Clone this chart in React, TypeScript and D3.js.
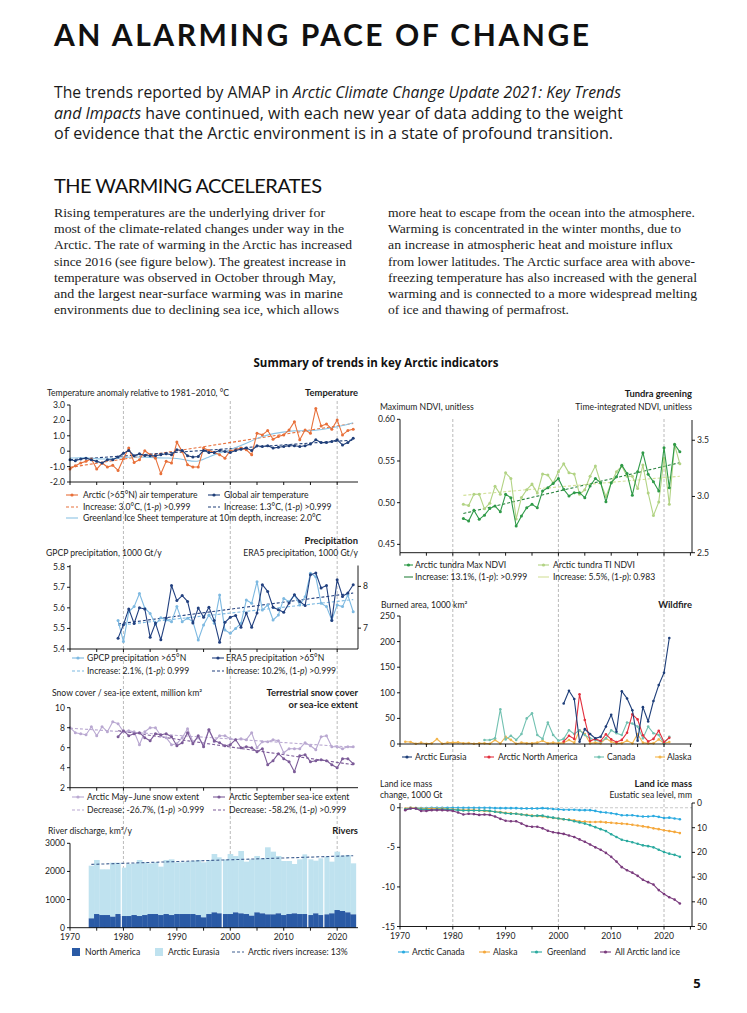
import React from 'react';
import * as d3 from 'd3';

// ---------- data ----------
const tempYears = d3.range(1970, 2024);
const arcticAirTemp = [-1.16, -0.94, -0.77, -0.66, -0.51, -1.16, -0.77, -1.03, -0.92, -1.25, -0.49, 0.2, -0.73, -0.56, 0.03, -0.23, -0.45, -1.46, -0.66, -0.77, 0.59, -0.02, -0.88, -1.03, -1.03, 0.2, 0.05, -0.08, -0.23, -0.45, 0.03, 0.09, 0.2, 0.09, -0.23, 1.17, 1.06, 1.34, 0.78, 0.95, 1.06, 1.38, 1.92, 0.74, 1.38, 1.17, 2.78, 1.64, 1.77, 1.43, 2.03, 1.06, 1.34, 1.43];
const globalAirTemp = [-0.56, -0.62, -0.51, -0.45, -0.56, -0.66, -0.77, -0.56, -0.56, -0.38, -0.13, 0.05, -0.3, -0.17, -0.28, -0.3, -0.3, -0.23, -0.17, -0.23, 0.09, 0.05, -0.3, -0.38, -0.34, 0.05, -0.08, -0.08, 0.05, -0.02, -0.08, 0.05, 0.13, 0.2, 0.05, 0.35, 0.31, 0.35, 0.2, 0.26, 0.31, 0.35, 0.35, 0.31, 0.35, 0.46, 0.74, 0.56, 0.56, 0.63, 0.74, 0.41, 0.56, 0.84];
const greenlandYears = [1970, 1973, 1976, 1979, 1982, 1985, 1988, 1990, 1992, 1994, 1996, 1998, 2000, 2003, 2006, 2009, 2012, 2015, 2018, 2021, 2023];
const greenlandTemp = [-0.45, -0.4, -0.55, -0.45, -0.35, -0.4, -0.45, -0.45, -0.6, -0.72, -0.35, -0.1, 0.1, 0.5, 1.0, 1.2, 1.35, 1.3, 1.45, 1.65, 1.85];
const arcticTempTrend = [[1970, -1.05], [2023, 1.8]];
const globalTempTrend = [[1970, -0.55], [2023, 0.72]];

const precipYears = d3.range(1979, 2024);
const gpcpPrecip = [5.538, 5.436, 5.581, 5.606, 5.67, 5.598, 5.573, 5.52, 5.552, 5.541, 5.533, 5.606, 5.533, 5.549, 5.533, 5.444, 5.517, 5.565, 5.525, 5.662, 5.492, 5.476, 5.5, 5.525, 5.638, 5.622, 5.727, 5.589, 5.614, 5.541, 5.565, 5.646, 5.63, 5.662, 5.614, 5.654, 5.768, 5.751, 5.622, 5.606, 5.541, 5.614, 5.606, 5.662, 5.581];
const era5Precip = [6.76, 7.08, 7.46, 7.11, 7.49, 7.46, 6.78, 7.12, 6.72, 7.24, 8.02, 7.66, 7.78, 7.64, 7.12, 7.48, 7.26, 7.5, 7.18, 6.66, 7.14, 7.26, 7.3, 7.02, 7.36, 7.02, 7.36, 8.04, 7.88, 7.5, 7.44, 7.38, 7.6, 7.8, 7.64, 7.54, 8.28, 8.32, 7.96, 8.02, 7.18, 8.16, 7.76, 7.84, 8.04];
const gpcpTrend = [[1979, 5.515], [2023, 5.64]];
const era5Trend = [[1979, 7.1], [2023, 7.84]];

const snowYears = d3.range(1970, 2024);
const snowExtent = [8.0, 7.5, 7.4, 7.3, 8.1, 7.2, 8.1, 7.6, 8.6, 8.4, 7.6, 7.7, 7.6, 6.3, 7.6, 8.0, 8.0, 7.2, 7.0, 6.3, 6.4, 7.0, 7.9, 6.6, 7.0, 6.3, 7.8, 6.6, 7.2, 7.2, 6.9, 6.8, 6.9, 6.8, 7.5, 6.0, 6.6, 6.6, 6.8, 6.7, 5.5, 5.9, 5.9, 5.9, 6.5, 6.2, 5.8, 7.1, 7.2, 6.1, 6.1, 5.9, 6.1, 6.1];
const seaIceYears = d3.range(1979, 2024);
const seaIceExtent = [7.1, 7.7, 7.2, 7.4, 7.5, 7.0, 6.7, 7.4, 7.3, 7.4, 7.1, 6.2, 6.5, 7.5, 6.4, 7.2, 6.1, 7.8, 6.7, 6.5, 6.2, 6.3, 6.8, 6.0, 6.1, 6.0, 5.6, 5.9, 4.3, 4.7, 5.4, 4.9, 4.6, 3.6, 5.2, 5.3, 4.6, 4.7, 4.8, 4.7, 4.3, 4.0, 4.9, 4.9, 4.4];
const snowTrend = [[1970, 7.95], [2023, 6.05]];
const seaIceTrend = [[1979, 7.7], [2023, 4.3]];

const riverYears = d3.range(1974, 2024);
const northAmericaDischarge = [332, 486, 450, 450, 391, 486, 415, 415, 450, 415, 450, 486, 486, 450, 486, 450, 486, 486, 486, 486, 450, 368, 486, 545, 510, 486, 486, 545, 510, 486, 427, 545, 510, 474, 474, 510, 450, 486, 510, 486, 486, 450, 510, 450, 474, 510, 628, 593, 545, 474];
const eurasiaDischarge = [1873, 1921, 1625, 1625, 1921, 1826, 1719, 1850, 1838, 1992, 1874, 1802, 1838, 1720, 1921, 1980, 1838, 1838, 1862, 1897, 1957, 1956, 1921, 2075, 1992, 1944, 2134, 2004, 2217, 1862, 2003, 2004, 1956, 2384, 2229, 2039, 1921, 1885, 1755, 1944, 2122, 1980, 1873, 2016, 2052, 1838, 2075, 1968, 2040, 1814];
const riverTrend = [[1974, 2250], [2023, 2560]];
const riverGaps = [1979.6, 1998.5, 2014.5, 2017.5];

const ndviYears = d3.range(1982, 2024);
const maxNdvi = [0.481, 0.478, 0.491, 0.48, 0.485, 0.493, 0.496, 0.489, 0.51, 0.506, 0.472, 0.484, 0.494, 0.498, 0.494, 0.514, 0.518, 0.523, 0.529, 0.516, 0.508, 0.512, 0.512, 0.506, 0.52, 0.529, 0.524, 0.501, 0.524, 0.531, 0.545, 0.535, 0.509, 0.537, 0.56, 0.534, 0.525, 0.514, 0.566, 0.518, 0.57, 0.561];
const tiNdvi = [2.93, 2.92, 3.02, 3.02, 2.89, 2.94, 3.09, 3.02, 3.21, 3.16, 2.8, 2.99, 3.06, 3.11, 3.03, 3.2, 3.19, 3.12, 3.22, 3.29, 3.21, 3.2, 3.02, 3.06, 3.18, 3.27, 3.12, 3.0, 3.12, 3.22, 3.27, 3.18, 3.18, 3.07, 3.28, 3.03, 2.83, 2.95, 3.34, 2.93, 3.46, 3.29];
const maxNdviTrend = [[1982, 0.487], [2023, 0.548]];
const tiNdviTrend = [[1982, 3.01], [2023, 3.18]];

const eurasiaFireYears = d3.range(2001, 2022);
const eurasiaFire = [79, 104, 88, 4.5, 29, 19.5, 11, 14, 34, 57, 24, 103, 89, 66, 6.5, 72, 44, 84, 115, 139, 207];
const naFireYears = d3.range(2001, 2022);
const naFire = [5, 16, 10, 97, 47, 6, 10, 6, 19, 9, 4, 8, 22, 58, 48, 17, 5, 10, 26, 4, 12];
const canadaFireYears = d3.range(1986, 2022);
const canadaFire = [7.8, 7.8, 11, 67.7, 9, 16, 8, 19.5, 50, 60, 17.6, 10, 42, 17.6, 6.5, 10, 27, 19.5, 27, 17.6, 11, 8, 4.6, 11, 27, 21, 17.6, 42, 40, 34, 11, 34, 21, 17.6, 1.3, 14];
const alaskaFireYears = d3.range(1971, 2022);
const alaskaFire = [4.5, 4, 0.5, 2.6, 0.5, 1.3, 9.8, 0.6, 2.6, 2.6, 3.2, 1.3, 2, 0.6, 1.3, 1.3, 0.6, 7.8, 1, 14, 8, 0.5, 2.6, 1.3, 1.3, 2.6, 6.5, 1.3, 2.6, 1.3, 2.6, 7.8, 2.6, 27, 19.5, 1.3, 2.6, 1.3, 11, 4.5, 1.3, 1.3, 6.5, 1.3, 19.5, 2.6, 1.3, 1.3, 9, 1.3, 4];

const iceYears = d3.range(1971, 2024);
const arcticCanadaIce = [-0.15, 0, -0.05, -0.05, -0.05, 0, 0, 0, 0, 0, 0, 0, 0, 0, 0, 0, 0, -0.05, -0.05, -0.05, -0.05, -0.05, -0.1, -0.1, -0.1, -0.1, -0.05, -0.1, -0.15, -0.2, -0.25, -0.25, -0.25, -0.3, -0.3, -0.3, -0.4, -0.55, -0.6, -0.7, -0.8, -0.95, -0.95, -0.95, -1.05, -1.1, -1.1, -1.05, -1.15, -1.3, -1.25, -1.35, -1.45];
const alaskaIce = [-0.1, 0, -0.05, -0.1, -0.1, -0.1, -0.1, -0.1, -0.15, -0.2, -0.25, -0.3, -0.3, -0.3, -0.35, -0.4, -0.45, -0.5, -0.55, -0.65, -0.7, -0.75, -0.85, -0.9, -1.0, -1.05, -1.1, -1.2, -1.3, -1.35, -1.45, -1.5, -1.6, -1.7, -1.75, -1.8, -1.8, -1.78, -1.85, -1.9, -1.95, -2.0, -2.05, -2.15, -2.25, -2.35, -2.45, -2.6, -2.7, -2.85, -2.95, -3.05, -3.2];
const greenlandIce = [-0.2, -0.1, -0.1, -0.2, -0.2, -0.25, -0.2, -0.2, -0.2, -0.25, -0.3, -0.35, -0.35, -0.35, -0.35, -0.35, -0.4, -0.5, -0.6, -0.7, -0.75, -0.75, -0.85, -0.95, -1.05, -1.0, -1.0, -1.15, -1.25, -1.35, -1.45, -1.55, -1.7, -1.85, -2.0, -2.2, -2.45, -2.7, -2.95, -3.35, -3.7, -4.05, -4.2, -4.35, -4.55, -4.75, -4.85, -5.0, -5.3, -5.6, -5.8, -5.95, -6.2];
const allArcticIce = [-0.3, -0.1, -0.1, -0.4, -0.4, -0.3, -0.3, -0.3, -0.35, -0.4, -0.6, -0.85, -0.75, -0.8, -0.9, -0.85, -0.9, -1.1, -1.4, -1.65, -1.7, -1.7, -2.0, -2.3, -2.4, -2.4, -2.6, -2.9, -3.1, -3.2, -3.3, -3.5, -3.7, -4.0, -4.3, -4.65, -5.0, -5.3, -5.7, -6.2, -6.8, -7.5, -7.9, -8.2, -8.6, -9.1, -9.4, -9.7, -10.4, -10.9, -11.3, -11.6, -12.1];

const refYears = [1980, 2000, 2020];

// ---------- helpers ----------
const FONT = 'Lato, "Noto Sans", Arial, sans-serif';
const INK = '#1c1c1c';
const zip = (ys: number[], vs: number[]) => ys.map((yr, i) => [yr, vs[i]]);

const xL = d3.scaleLinear().domain([1970, 2023.9]).range([70, 358]);
const xR = d3.scaleLinear().domain([1970, 2025.3]).range([400, 692]);

const Series = ({ data, x, y, color, width = 1.1, dash, dots = false, r = 1.5, curve }: any) => {
  const gen = d3.line<number[]>().x(d => x(d[0])).y(d => y(d[1])).curve(curve || d3.curveLinear);
  return (
    <g>
      <path d={gen(data) || ''} fill="none" stroke={color} strokeWidth={width} strokeDasharray={dash} strokeLinejoin="round" />
      {dots && data.map((d: number[], i: number) => <circle key={i} cx={x(d[0])} cy={y(d[1])} r={r} fill={color} />)}
    </g>
  );
};

const YAxis = ({ y, x, ticks, side = 'left', fmt = (v: number) => String(v), top, bottom }: any) => {
  const r = y.range();
  const lo = top ?? Math.min(r[0], r[1]);
  const hi = bottom ?? Math.max(r[0], r[1]);
  const dir = side === 'left' ? -1 : 1;
  return (
    <g fontFamily={FONT} fontSize={8.6} fill={INK}>
      <line x1={x} x2={x} y1={lo} y2={hi} stroke="#000" strokeWidth={0.9} />
      {ticks.map((v: number) => (
        <g key={v}>
          <line x1={x} x2={x + dir * 3} y1={y(v)} y2={y(v)} stroke="#000" strokeWidth={0.9} />
          <text x={x + dir * 5} y={y(v) + 3} textAnchor={side === 'left' ? 'end' : 'start'}>{fmt(v)}</text>
        </g>
      ))}
    </g>
  );
};

const XAxis = ({ x, y, labels = false }: any) => {
  const d1 = x.domain()[1];
  const ticks = d3.range(1970, d1 + 0.01, 5);
  const [r0, r1] = x.range();
  return (
    <g>
      <line x1={r0} x2={r1} y1={y} y2={y} stroke="#000" strokeWidth={0.9} />
      {ticks.map((t: number) => <line key={t} x1={x(t)} x2={x(t)} y1={y} y2={y + 3} stroke="#000" strokeWidth={0.9} />)}
      {labels && ticks.filter((t: number) => t % 10 === 0).map((t: number) => (
        <text key={t} x={x(t)} y={y + 12} textAnchor="middle" fontFamily={FONT} fontSize={8.6} fill={INK}>{t}</text>
      ))}
    </g>
  );
};

const Key = ({ x, y, color, kind, w = 12 }: any) => {
  if (kind === 'square') return <rect x={x} y={y - 4} width={8} height={8} fill={color} />;
  return (
    <g>
      <line x1={x} x2={x + w} y1={y} y2={y} stroke={color} strokeWidth={1.1} strokeDasharray={kind === 'dash' ? '3,2' : undefined} />
      {kind === 'dot' && <circle cx={x + w / 2} cy={y} r={1.6} fill={color} />}
    </g>
  );
};

const T = ({ x, y, children, anchor = 'start', bold = false, size = 8.6 }: any) => (
  <text x={x} y={y} textAnchor={anchor} fontFamily={FONT} fontSize={size} fontWeight={bold ? 700 : 400} fill={INK}>{children}</text>
);
const P = () => <tspan fontStyle="italic">p</tspan>;

const RefLines = ({ x, y0, y1 }: any) => (
  <g>
    {refYears.map(yr => (
      <line key={yr} x1={x(yr)} x2={x(yr)} y1={y0} y2={y1} stroke="#a8a8a8" strokeWidth={0.8} strokeDasharray="3,2" />
    ))}
  </g>
);

// ---------- panels ----------
const C = {
  arctic: '#E8703A', navy: '#1F3E78', greenland: '#8DC4E4',
  gpcp: '#7DB9E1', era5: '#22407F',
  snow: '#B9A8D1', seaIce: '#7C5B98',
  na: '#2A5AA5', eu: '#BFE2EF', riverTrend: '#3E5E90',
  maxNdvi: '#2F9A48', ti: '#B2D384', maxTrend: '#2A8440', tiTrend: '#D3E19A',
  fEu: '#1E3E79', fNa: '#E2303E', fCa: '#72C1B1', fAk: '#F4B64C',
  iCa: '#2AAAE0', iAk: '#F5A83C', iGr: '#2BAA9F', iAll: '#7A3B7D',
};

const TemperaturePanel = () => {
  const y = d3.scaleLinear().domain([-2, 3]).range([482, 405]);
  return (
    <g>
      <T x={47} y={396}>Temperature anomaly relative to 1981–2010, °C</T>
      <T x={358} y={396} anchor="end" bold size={9.4}>Temperature</T>
      <Series data={arcticTempTrend} x={xL} y={y} color={C.arctic} dash="3,2" />
      <Series data={globalTempTrend} x={xL} y={y} color={C.navy} dash="3,2" />
      <Series data={zip(greenlandYears, greenlandTemp)} x={xL} y={y} color={C.greenland} curve={d3.curveBasis} />
      <Series data={zip(tempYears, arcticAirTemp)} x={xL} y={y} color={C.arctic} dots />
      <Series data={zip(tempYears, globalAirTemp)} x={xL} y={y} color={C.navy} dots />
      <YAxis y={y} x={70} ticks={[-2, -1, 0, 1, 2, 3]} fmt={(v: number) => (v === 0 ? '0' : v.toFixed(1))} />
      <XAxis x={xL} y={482} />
      <Key x={66} y={495} color={C.arctic} kind="dot" />
      <T x={83} y={498}>Arctic (&gt;65°N) air temperature</T>
      <Key x={208} y={495} color={C.navy} kind="dot" />
      <T x={224} y={498}>Global air temperature</T>
      <Key x={66} y={507} color={C.arctic} kind="dash" />
      <T x={83} y={510}>Increase: 3.0°C, (1-<P />) &gt;0.999</T>
      <Key x={208} y={507} color={C.navy} kind="dash" />
      <T x={224} y={510}>Increase: 1.3°C, (1-<P />) &gt;0.999</T>
      <Key x={66} y={518} color={C.greenland} kind="line" />
      <T x={83} y={521}>Greenland Ice Sheet temperature at 10m depth, increase: 2.0°C</T>
    </g>
  );
};

const PrecipPanel = () => {
  const y = d3.scaleLinear().domain([5.4, 5.8]).range([649, 566.7]);
  const y2 = d3.scaleLinear().domain([6.5, 8.5]).range([649, 565.5]);
  return (
    <g>
      <T x={358} y={544} anchor="end" bold size={9.4}>Precipitation</T>
      <T x={46} y={556}>GPCP precipitation, 1000 Gt/y</T>
      <T x={358} y={556} anchor="end">ERA5 precipitation, 1000 Gt/y</T>
      <Series data={gpcpTrend} x={xL} y={y} color={C.gpcp} dash="3,2" />
      <Series data={era5Trend} x={xL} y={y2} color={C.era5} dash="3,2" />
      <Series data={zip(precipYears, gpcpPrecip)} x={xL} y={y} color={C.gpcp} dots />
      <Series data={zip(precipYears, era5Precip)} x={xL} y={y2} color={C.era5} dots />
      <YAxis y={y} x={70} ticks={[5.4, 5.5, 5.6, 5.7, 5.8]} fmt={(v: number) => v.toFixed(1)} top={565} />
      <YAxis y={y2} x={358} side="right" ticks={[7, 8]} />
      <XAxis x={xL} y={649} />
      <Key x={72} y={658} color={C.gpcp} kind="dot" />
      <T x={87} y={661}>GPCP precipitation &gt;65°N</T>
      <Key x={212} y={658} color={C.era5} kind="dot" />
      <T x={226} y={661}>ERA5 precipitation &gt;65°N</T>
      <Key x={72} y={671} color={C.gpcp} kind="dash" />
      <T x={87} y={674}>Increase: 2.1%, (1-<P />): 0.999</T>
      <Key x={212} y={671} color={C.era5} kind="dash" />
      <T x={226} y={674}>Increase: 10.2%, (1-<P />) &gt;0.999</T>
    </g>
  );
};

const SnowPanel = () => {
  const y = d3.scaleLinear().domain([2, 10]).range([787.7, 707.7]);
  return (
    <g>
      <T x={52} y={696}>Snow cover / sea-ice extent, million km²</T>
      <T x={358} y={696} anchor="end" bold size={9.4}>Terrestrial snow cover</T>
      <T x={358} y={708} anchor="end" bold size={9.4}>or sea-ice extent</T>
      <Series data={snowTrend} x={xL} y={y} color={C.snow} dash="3,2" />
      <Series data={seaIceTrend} x={xL} y={y} color={C.seaIce} dash="3,2" />
      <Series data={zip(snowYears, snowExtent)} x={xL} y={y} color={C.snow} dots />
      <Series data={zip(seaIceYears, seaIceExtent)} x={xL} y={y} color={C.seaIce} dots />
      <YAxis y={y} x={70} ticks={[2, 4, 6, 8, 10]} />
      <XAxis x={xL} y={787.7} />
      <Key x={72} y={797} color={C.snow} kind="dot" />
      <T x={87} y={800}>Arctic May–June snow extent</T>
      <Key x={213} y={797} color={C.seaIce} kind="dot" />
      <T x={229} y={800}>Arctic September sea-ice extent</T>
      <Key x={72} y={810} color={C.snow} kind="dash" />
      <T x={87} y={813}>Decrease: -26.7%, (1-<P />) &gt;0.999</T>
      <Key x={213} y={810} color={C.seaIce} kind="dash" />
      <T x={229} y={813}>Decrease: -58.2%, (1-<P />) &gt;0.999</T>
    </g>
  );
};

const RiversPanel = () => {
  const y = d3.scaleLinear().domain([0, 3000]).range([927.7, 843.3]);
  return (
    <g>
      <T x={48} y={834}>River discharge, km³/y</T>
      <T x={358} y={834} anchor="end" bold size={9.4}>Rivers</T>
      {riverYears.map((yr, i) => {
        const x0 = xL(yr - 0.5);
        const w = xL(yr + 0.5) - x0 + 0.3;
        const na = northAmericaDischarge[i];
        const tot = na + eurasiaDischarge[i];
        return (
          <g key={yr}>
            <rect x={x0} width={w} y={y(tot)} height={y(na) - y(tot)} fill={C.eu} />
            <rect x={x0} width={w} y={y(na)} height={y(0) - y(na)} fill={C.na} />
          </g>
        );
      })}
      {riverGaps.map(g => <line key={g} x1={xL(g)} x2={xL(g)} y1={y(3000)} y2={y(0)} stroke="#fff" strokeWidth={1.2} />)}
      <Series data={riverTrend} x={xL} y={y} color={C.riverTrend} dash="3,2" />
      <YAxis y={y} x={70} ticks={[0, 1000, 2000, 3000]} />
      <XAxis x={xL} y={927.7} labels />
      <Key x={72} y={952} color={C.na} kind="square" />
      <T x={85} y={955}>North America</T>
      <Key x={155} y={952} color={C.eu} kind="square" />
      <T x={168} y={955}>Arctic Eurasia</T>
      <Key x={232} y={952} color={C.riverTrend} kind="dash" />
      <T x={248} y={955}>Arctic rivers increase: 13%</T>
    </g>
  );
};

const TundraPanel = () => {
  const y = d3.scaleLinear().domain([0.44, 0.6]).range([552.7, 419.3]);
  const y2 = d3.scaleLinear().domain([2.5, 3.68]).range([552.7, 420]);
  return (
    <g>
      <T x={692} y={397} anchor="end" bold size={9.4}>Tundra greening</T>
      <T x={380} y={410}>Maximum NDVI, unitless</T>
      <T x={692} y={410} anchor="end">Time-integrated NDVI, unitless</T>
      <Series data={maxNdviTrend} x={xR} y={y} color={C.maxTrend} dash="3,2" />
      <Series data={tiNdviTrend} x={xR} y={y2} color={C.tiTrend} dash="3,2" />
      <Series data={zip(ndviYears, tiNdvi)} x={xR} y={y2} color={C.ti} dots />
      <Series data={zip(ndviYears, maxNdvi)} x={xR} y={y} color={C.maxNdvi} dots />
      <YAxis y={y} x={400} ticks={[0.45, 0.5, 0.55, 0.6]} fmt={(v: number) => v.toFixed(2)} />
      <YAxis y={y2} x={692} side="right" ticks={[2.5, 3, 3.5]} fmt={(v: number) => v.toFixed(1)} />
      <XAxis x={xR} y={552.7} />
      <Key x={404} y={565} color={C.maxNdvi} kind="dot" w={9} />
      <T x={415} y={568}>Arctic tundra Max NDVI</T>
      <Key x={538} y={565} color={C.ti} kind="dot" w={11} />
      <T x={553} y={568}>Arctic tundra TI NDVI</T>
      <Key x={404} y={577} color={C.maxTrend} kind="line" w={9} />
      <T x={415} y={580}>Increase: 13.1%, (1-<P />): &gt;0.999</T>
      <Key x={538} y={577} color={C.tiTrend} kind="line" w={11} />
      <T x={553} y={580}>Increase: 5.5%, (1-<P />): 0.983</T>
    </g>
  );
};

const WildfirePanel = () => {
  const y = d3.scaleLinear().domain([0, 250]).range([744, 616]);
  return (
    <g>
      <T x={381} y={608}>Burned area, 1000 km²</T>
      <T x={692} y={608} anchor="end" bold size={9.4}>Wildfire</T>
      <Series data={zip(alaskaFireYears, alaskaFire)} x={xR} y={y} color={C.fAk} dots r={1.3} />
      <Series data={zip(canadaFireYears, canadaFire)} x={xR} y={y} color={C.fCa} dots r={1.3} />
      <Series data={zip(naFireYears, naFire)} x={xR} y={y} color={C.fNa} dots r={1.3} />
      <Series data={zip(eurasiaFireYears, eurasiaFire)} x={xR} y={y} color={C.fEu} dots r={1.3} />
      <YAxis y={y} x={400} ticks={[0, 50, 100, 150, 200, 250]} />
      <XAxis x={xR} y={744} />
      <Key x={402} y={757} color={C.fEu} kind="dot" w={10} />
      <T x={415} y={760}>Arctic Eurasia</T>
      <Key x={484} y={757} color={C.fNa} kind="dot" w={10} />
      <T x={498} y={760}>Arctic North America</T>
      <Key x={594} y={757} color={C.fCa} kind="dot" w={10} />
      <T x={607} y={760}>Canada</T>
      <Key x={655} y={757} color={C.fAk} kind="dot" w={10} />
      <T x={667} y={760}>Alaska</T>
    </g>
  );
};

const LandIcePanel = () => {
  const y = d3.scaleLinear().domain([-15, 0.6]).range([926.5, 803]);
  const y2 = d3.scaleLinear().domain([0, 50]).range([803, 926.5]);
  return (
    <g>
      <T x={380} y={787}>Land ice mass</T>
      <T x={380} y={798}>change, 1000 Gt</T>
      <T x={692} y={787} anchor="end" bold size={9.4}>Land ice mass</T>
      <T x={692} y={798} anchor="end">Eustatic sea level, mm</T>
      <line x1={400} x2={692} y1={y(0)} y2={y(0)} stroke="#bbb" strokeWidth={0.8} strokeDasharray="3,2" />
      <Series data={zip(iceYears, arcticCanadaIce)} x={xR} y={y} color={C.iCa} dots r={1.3} />
      <Series data={zip(iceYears, alaskaIce)} x={xR} y={y} color={C.iAk} dots r={1.3} />
      <Series data={zip(iceYears, greenlandIce)} x={xR} y={y} color={C.iGr} dots r={1.3} />
      <Series data={zip(iceYears, allArcticIce)} x={xR} y={y} color={C.iAll} dots r={1.3} />
      <YAxis y={y} x={400} ticks={[0, -5, -10, -15]} />
      <YAxis y={y2} x={692} side="right" ticks={[0, 10, 20, 30, 40, 50]} />
      <XAxis x={xR} y={926.5} labels />
      <Key x={398} y={952} color={C.iCa} kind="dot" w={11} />
      <T x={412} y={955}>Arctic Canada</T>
      <Key x={479} y={952} color={C.iAk} kind="dot" w={11} />
      <T x={493} y={955}>Alaska</T>
      <Key x={531} y={952} color={C.iGr} kind="dot" w={11} />
      <T x={547} y={955}>Greenland</T>
      <Key x={600} y={952} color={C.iAll} kind="dot" w={11} />
      <T x={615} y={955}>All Arctic land ice</T>
    </g>
  );
};

// ---------- page text ----------
const leftBody = [
  ['Rising temperatures are the underlying driver for', 271],
  ['most of the climate-related changes under way in the', 290],
  ['Arctic. The rate of warming in the Arctic has increased', 298],
  ['since 2016 (see figure below). The greatest increase in', 292],
  ['temperature was observed in October through May,', 282],
  ['and the largest near-surface warming was in marine', 289],
  ['environments due to declining sea ice, which allows', 285],
];
const rightBody = [
  ['more heat to escape from the ocean into the atmosphere.', 307],
  ['Warming is concentrated in the winter months, due to', 293],
  ['an increase in atmospheric heat and moisture influx', 285],
  ['from lower latitudes. The Arctic surface area with above-', 307],
  ['freezing temperature has also increased with the general', 309],
  ['warming and is connected to a more widespread melting', 309],
  ['of ice and thawing of permafrost.', 181],
];

const SERIF = '"Liberation Serif", "DejaVu Serif", serif';
const SANS = '"Open Sans", "Noto Sans", sans-serif';

const App: React.FC = () => (
  <svg width={747} height={1013} style={{ position: 'absolute', left: 0, top: 0, background: '#fff' }}>
    <rect width={747} height={1013} fill="#fff" />
    <text x={54} y={46} fontFamily={FONT} fontWeight={700} fontSize={30} fill="#111" textLength={535} lengthAdjust="spacing">AN ALARMING PACE OF CHANGE</text>
    <g fontFamily={SANS} fontSize={15.5} fill="#1a1a1a">
      <text x={54} y={98} textLength={567} lengthAdjust="spacingAndGlyphs">The trends reported by AMAP in <tspan fontStyle="italic">Arctic Climate Change Update 2021: Key Trends</tspan></text>
      <text x={54} y={119} textLength={569} lengthAdjust="spacingAndGlyphs"><tspan fontStyle="italic">and Impacts</tspan> have continued, with each new year of data adding to the weight</text>
      <text x={54} y={139} textLength={559} lengthAdjust="spacingAndGlyphs">of evidence that the Arctic environment is in a state of profound transition.</text>
    </g>
    <text x={54} y={193} fontFamily={FONT} fontSize={20} fill="#111" textLength={268} lengthAdjust="spacing">THE WARMING ACCELERATES</text>
    <g fontFamily={SERIF} fontSize={13.5} fill="#222">
      {leftBody.map(([s, w], i) => (
        <text key={i} x={54} y={217 + i * 16.2} textLength={w as number} lengthAdjust="spacingAndGlyphs">{s}</text>
      ))}
      {rightBody.map(([s, w], i) => (
        <text key={i} x={388} y={217 + i * 16.2} textLength={w as number} lengthAdjust="spacingAndGlyphs">{s}</text>
      ))}
    </g>
    <text x={376} y={367} textAnchor="middle" fontFamily={SANS} fontWeight={700} fontSize={11.5} fill="#111" textLength={245} lengthAdjust="spacingAndGlyphs">Summary of trends in key Arctic indicators</text>

    <RefLines x={xL} y0={401} y1={927} />
    <RefLines x={xR} y0={419} y1={926} />

    <TemperaturePanel />
    <PrecipPanel />
    <SnowPanel />
    <RiversPanel />
    <TundraPanel />
    <WildfirePanel />
    <LandIcePanel />

    <text x={697} y={988} textAnchor="middle" fontFamily={SANS} fontWeight={700} fontSize={13} fill="#111">5</text>
  </svg>
);

export default App;
